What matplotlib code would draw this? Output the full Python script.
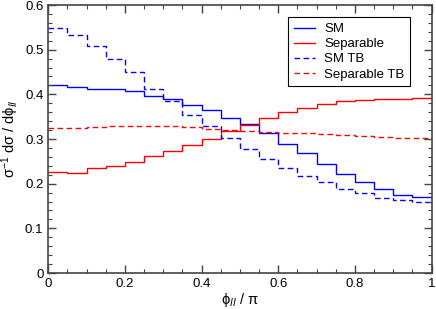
import numpy as np
import matplotlib
matplotlib.use("Agg")
import matplotlib.pyplot as plt
from matplotlib.ticker import MultipleLocator

plt.rcParams["font.family"] = ["Liberation Sans", "DejaVu Sans"]
plt.rcParams["mathtext.default"] = "regular"

# bin edges in phi_ll / pi (20 bins)
edges = np.linspace(0, 1, 21)

sm = [0.422, 0.417, 0.413, 0.411, 0.407, 0.396, 0.389, 0.376, 0.365, 0.348,
      0.333, 0.313, 0.289, 0.269, 0.243, 0.222, 0.204, 0.187, 0.175, 0.170]
separable = [0.226, 0.225, 0.234, 0.239, 0.248, 0.262, 0.273, 0.287, 0.301, 0.319,
             0.331, 0.348, 0.360, 0.370, 0.379, 0.384, 0.388, 0.389, 0.390, 0.391]
sm_tb = [0.549, 0.533, 0.509, 0.478, 0.449, 0.413, 0.384, 0.354, 0.328, 0.303,
         0.277, 0.256, 0.235, 0.218, 0.203, 0.189, 0.178, 0.169, 0.163, 0.160]
separable_tb = [0.324, 0.325, 0.326, 0.330, 0.330, 0.329, 0.329, 0.326, 0.323, 0.321,
                0.318, 0.316, 0.314, 0.313, 0.312, 0.309, 0.307, 0.305, 0.303, 0.302]

xticks = [0, 0.2, 0.4, 0.6, 0.8, 1]
xticklabels = ["0", "0.2", "0.4", "0.6", "0.8", "1"]
yticks = [0, 0.1, 0.2, 0.3, 0.4, 0.5, 0.6]
yticklabels = ["0", "0.1", "0.2", "0.3", "0.4", "0.5", "0.6"]

fig = plt.figure(figsize=(4.36, 3.09), dpi=100)
ax = fig.add_axes([0.1108, 0.1165, 0.879, 0.8673])

ax.stairs(sm, edges, baseline=None, color="#0000ff", lw=1.0, label="SM")
ax.stairs(separable, edges, baseline=None, color="#ff0000", lw=1.0, label="Separable")
ax.stairs(sm_tb, edges, baseline=None, color="#0000ff", lw=1.0, ls=(0, (4, 2.5)),
          label="SM TB")
ax.stairs(separable_tb, edges, baseline=None, color="#ff0000", lw=1.0, ls=(0, (4, 2.5)),
          label="Separable TB")

ax.set_xlim(0, 1)
ax.set_ylim(0, 0.6)
ax.set_xticks(xticks, xticklabels)
ax.set_yticks(yticks, yticklabels)
ax.xaxis.set_minor_locator(MultipleLocator(0.05))
ax.yaxis.set_minor_locator(MultipleLocator(0.02))
ax.tick_params(which="both", direction="in", top=True, right=True, labelsize=9.5,
               color="#444444")
ax.tick_params(which="major", length=6, width=1)
ax.tick_params(which="minor", length=3, width=0.8)
for s in ax.spines.values():
    s.set_color("#444444")
    s.set_linewidth(1.2)

ax.set_xlabel(r"ϕ$_{\mathit{ll}}$ / π", fontsize=10.5, labelpad=1)
ax.set_ylabel(r"σ$^{-1}$ dσ / dϕ$_{\mathit{ll}}$", fontsize=10.5, labelpad=3)

leg = ax.legend(loc="upper right", bbox_to_anchor=(0.962, 0.98), fontsize=9.5,
                frameon=True, fancybox=False, edgecolor="black", framealpha=1,
                handlelength=1.6, handletextpad=0.7, borderpad=0.45, labelspacing=0.22)
leg.get_frame().set_linewidth(0.8)

fig.savefig("out.png", dpi=100)
